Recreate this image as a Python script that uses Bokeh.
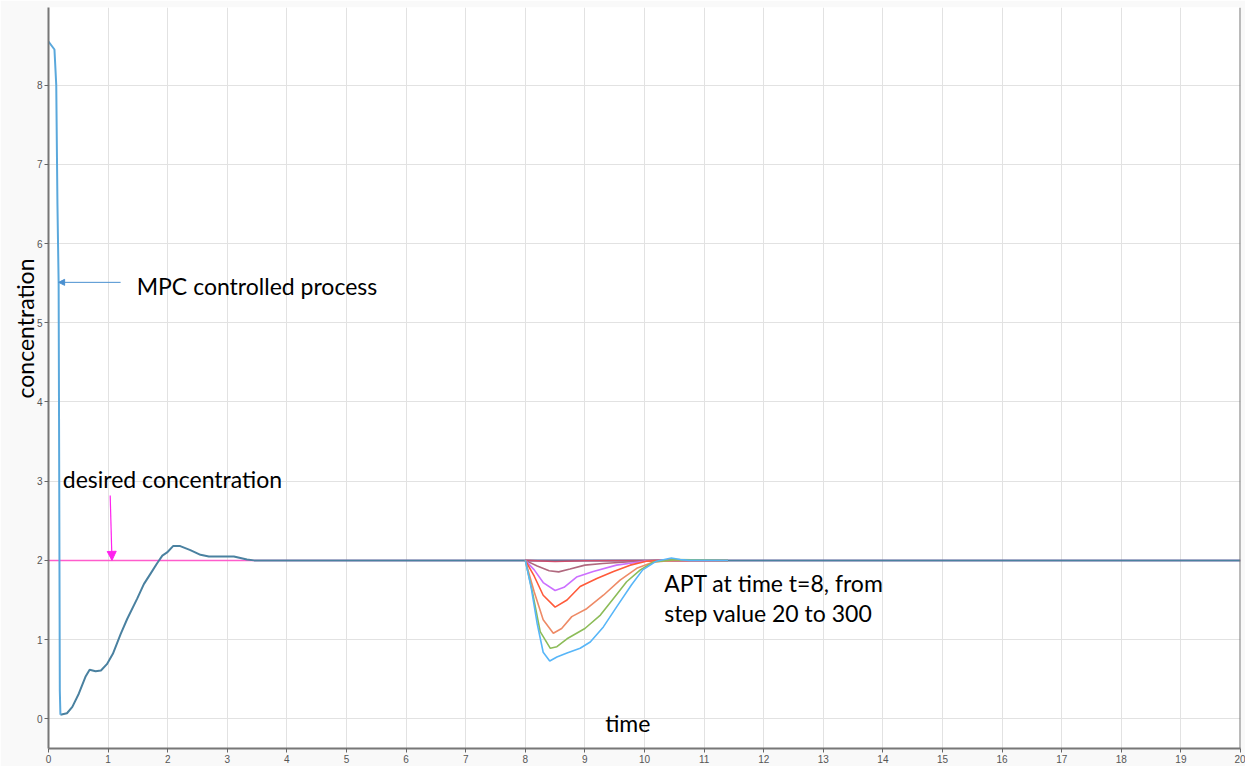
from bokeh.plotting import figure
from bokeh.models import (Range1d, SingleIntervalTicker, Label, Arrow, NormalHead, Span, Title)
from bokeh.embed import file_html
from bokeh.resources import INLINE

# MPC controlled process (concentration over time)
t_main = [0.0, 0.1, 0.13, 0.15, 0.17, 0.18, 0.19, 0.2, 0.31, 0.40, 0.51, 0.62, 0.69,
          0.79, 0.88, 0.98, 1.08, 1.21, 1.32, 1.49, 1.60, 1.71, 1.82, 1.91, 1.99,
          2.09, 2.21, 2.38, 2.55, 2.69, 2.83, 3.11, 3.33, 3.45, 20.0]
y_main = [8.55, 8.45, 8.0, 6.5, 5.5, 3.0, 0.35, 0.05, 0.07, 0.15, 0.32, 0.53, 0.62,
          0.60, 0.61, 0.69, 0.82, 1.07, 1.26, 1.52, 1.70, 1.83, 1.96, 2.06, 2.10,
          2.18, 2.18, 2.13, 2.07, 2.05, 2.05, 2.05, 2.01, 2.0, 2.0]
n_drop = 8  # first samples: the initial fall from the start value

# desired concentration (set point)
t_set = [0.0, 20.0]
y_set = [2.0, 2.0]

# APT disturbance at t=8, step value 20 ... 300
step_values = [20, 50, 100, 150, 200, 250, 300]
apt_t = [
    [8.0, 8.5, 9.0, 11.4],
    [8.0, 8.2, 8.4, 8.56, 8.75, 9.0, 9.3, 9.7, 10.2, 11.4],
    [8.0, 8.15, 8.3, 8.5, 8.65, 8.86, 9.14, 9.53, 10.0, 10.4, 11.4],
    [8.0, 8.15, 8.3, 8.5, 8.7, 8.92, 9.2, 9.48, 9.76, 10.03, 10.4, 11.4],
    [8.0, 8.15, 8.3, 8.47, 8.61, 8.78, 9.03, 9.31, 9.59, 9.87, 10.15, 10.5, 11.4],
    [8.0, 8.12, 8.25, 8.42, 8.53, 8.70, 9.00, 9.26, 9.48, 9.70, 9.93, 10.15, 10.5, 11.4],
    [8.0, 8.1, 8.2, 8.3, 8.41, 8.53, 8.70, 8.92, 9.09, 9.31, 9.53, 9.78, 9.97, 10.2,
     10.45, 10.6, 10.75, 11.4],
]
apt_y = [
    [2.0, 1.985, 1.995, 2.0],
    [2.0, 1.93, 1.87, 1.855, 1.89, 1.94, 1.96, 1.98, 2.0, 2.0],
    [2.0, 1.88, 1.72, 1.62, 1.66, 1.79, 1.86, 1.94, 1.99, 2.0, 2.0],
    [2.0, 1.8, 1.56, 1.41, 1.50, 1.67, 1.77, 1.86, 1.94, 1.99, 2.0, 2.0],
    [2.0, 1.6, 1.25, 1.08, 1.14, 1.29, 1.39, 1.56, 1.75, 1.90, 1.98, 2.0, 2.0],
    [2.0, 1.6, 1.1, 0.89, 0.91, 1.01, 1.14, 1.31, 1.52, 1.73, 1.88, 1.98, 2.01, 2.0],
    [2.0, 1.65, 1.2, 0.84, 0.73, 0.78, 0.83, 0.89, 0.97, 1.16, 1.41, 1.69, 1.88, 1.99,
     2.03, 2.01, 2.0, 2.0],
]
apt_colors = ["#d04c6c", "#b0687e", "#cc70ff", "#ff5a3a", "#ee8a66", "#8cbc58", "#58b6f8"]

TEXT_FONT = "Lato"
TEXT_SIZE = "23px"

p = figure(width=1245, height=766, output_backend="svg", toolbar_location=None,
           x_range=Range1d(0, 20), y_range=Range1d(-0.375, 8.98),
           min_border_left=48, min_border_right=5, min_border_top=7, min_border_bottom=18)
p.border_fill_color = "#f9f9f9"
p.background_fill_color = "white"
p.outline_line_color = None

for ax in (p.xaxis[0], p.yaxis[0]):
    ax.ticker = SingleIntervalTicker(interval=1)
    ax.minor_tick_line_color = None
    ax.major_tick_in = 0
    ax.major_tick_out = 4
    ax.major_tick_line_color = "#666666"
    ax.axis_line_color = "#777777"
    ax.axis_line_width = 2
    ax.major_label_text_font = "Liberation Sans"
    ax.major_label_text_font_size = "10px"
    ax.major_label_text_color = "#555555"
    ax.major_label_standoff = 2

p.xgrid.grid_line_color = "#e2e2e2"
p.ygrid.grid_line_color = "#e2e2e2"

# vertical axis title, raised above the frame centre
p.add_layout(Title(text="concentration", text_font=TEXT_FONT, text_font_size=TEXT_SIZE,
                   text_font_style="normal", text_color="black", align="left",
                   offset=350, standoff=-10), "left")

p.add_layout(Span(location=20, dimension="height", line_color="#777777", line_width=2))

# set point
p.line(t_set, y_set, line_color="#ff5ccc", line_width=1.5)

# controlled process
p.line(t_main[n_drop - 1:], y_main[n_drop - 1:], line_color="#4a81a0", line_width=2)
p.line(t_main[:n_drop], y_main[:n_drop], line_color="#5aa8dc", line_width=2)

# APT responses
for ts, ys, c in zip(apt_t, apt_y, apt_colors):
    p.line(ts, ys, line_color=c, line_width=1.6)

# annotations
p.add_layout(Arrow(end=NormalHead(size=6, fill_color="#4a90d0", line_color="#4a90d0"),
                   x_start=1.21, y_start=5.51, x_end=0.17, y_end=5.51,
                   line_color="#4a90d0", line_width=1))
p.add_layout(Arrow(end=NormalHead(size=9, fill_color="#ff22ee", line_color="#ff22ee"),
                   x_start=1.035, y_start=2.82, x_end=1.065, y_end=2.0,
                   line_color="#ff22ee", line_width=1.2))

def note(x, y, text):
    p.add_layout(Label(x=x, y=y, text=text, text_font=TEXT_FONT, text_font_size=TEXT_SIZE,
                       text_color="black", text_baseline="middle", text_align="left"))

note(1.48, 5.47, "MPC controlled process")
note(0.24, 3.03, "desired concentration")
note(10.33, 1.72, "APT at time t=8, from")
note(10.33, 1.34, "step value 20 to 300")
note(9.34, -0.05, "time")

open("out.html", "w").write(file_html(p, INLINE))
